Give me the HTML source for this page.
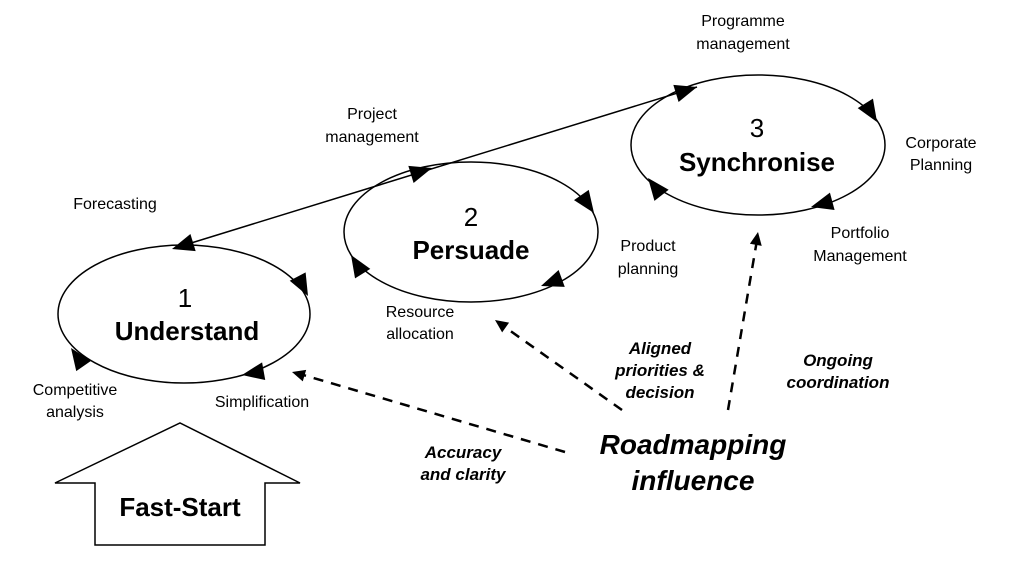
<!DOCTYPE html>
<html><head><style>html,body{margin:0;padding:0;background:#fff}</style></head><body>
<svg width="1024" height="576" viewBox="0 0 1024 576" xmlns="http://www.w3.org/2000/svg" font-family="Liberation Sans, sans-serif">
<defs>
<path id="ah" d="M0,0 L-22,-9 L-22,9 Z" fill="#000"/>
<path id="sh" d="M0,0 L-13,-6 L-13,6 Z" fill="#000"/>
</defs>
<rect width="1024" height="576" fill="#fff"/>
<g fill="none" stroke="#000" stroke-width="1.5">
<ellipse cx="184" cy="314" rx="126" ry="69"/>
<ellipse cx="471" cy="232" rx="127" ry="70"/>
<ellipse cx="758" cy="145" rx="127" ry="70"/>
<line x1="175" y1="248" x2="697" y2="87"/>
</g>
<use href="#ah" transform="translate(172,249) rotate(163)"/>
<use href="#ah" transform="translate(308,296) rotate(62)"/>
<use href="#ah" transform="translate(242,375) rotate(170)"/>
<use href="#ah" transform="translate(71,348) rotate(-125)"/>
<use href="#ah" transform="translate(432,168) rotate(-17)"/>
<use href="#ah" transform="translate(594,213) rotate(55)"/>
<use href="#ah" transform="translate(541,286) rotate(160)"/>
<use href="#ah" transform="translate(351,255) rotate(-122)"/>
<use href="#ah" transform="translate(697,87) rotate(-17)"/>
<use href="#ah" transform="translate(877,122) rotate(58)"/>
<use href="#ah" transform="translate(811,207) rotate(165)"/>
<use href="#ah" transform="translate(648,178) rotate(-128)"/>
<g fill="none" stroke="#000" stroke-width="2.5" stroke-dasharray="10,8">
<line x1="565" y1="452" x2="300" y2="374"/>
<line x1="622" y1="410" x2="502" y2="325"/>
<line x1="728" y1="410" x2="757" y2="240"/>
</g>
<use href="#sh" transform="translate(292,372) rotate(-163.6)"/>
<use href="#sh" transform="translate(495,320) rotate(-144.7)"/>
<use href="#sh" transform="translate(758,232) rotate(-80.3)"/>
<polygon points="55,483 180,423 300,483 265,483 265,545 95,545 95,483" fill="#fff" stroke="#000" stroke-width="1.5"/>
<g font-size="16" text-anchor="middle" fill="#000">
<text x="743" y="26">Programme</text><text x="743" y="49">management</text>
<text x="372" y="119">Project</text><text x="372" y="142">management</text>
<text x="115" y="209">Forecasting</text>
<text x="941" y="148">Corporate</text><text x="941" y="170">Planning</text>
<text x="648" y="251">Product</text><text x="648" y="274">planning</text>
<text x="860" y="238">Portfolio</text><text x="860" y="261">Management</text>
<text x="420" y="317">Resource</text><text x="420" y="339">allocation</text>
<text x="75" y="395">Competitive</text><text x="75" y="417">analysis</text>
<text x="262" y="407">Simplification</text>
</g>
<g font-size="26" text-anchor="middle" fill="#000">
<text x="185" y="307">1</text>
<text x="187" y="340" font-weight="bold">Understand</text>
<text x="471" y="226">2</text>
<text x="471" y="259" font-weight="bold">Persuade</text>
<text x="757" y="137">3</text>
<text x="757" y="171" font-weight="bold">Synchronise</text>
<text x="180" y="516" font-weight="bold">Fast-Start</text>
</g>
<g font-size="17" text-anchor="middle" font-weight="bold" font-style="italic" fill="#000">
<text x="660" y="354">Aligned</text><text x="660" y="376">priorities &amp;</text><text x="660" y="398">decision</text>
<text x="838" y="366">Ongoing</text><text x="838" y="388">coordination</text>
<text x="463" y="458">Accuracy</text><text x="463" y="480">and clarity</text>
</g>
<g font-size="28" text-anchor="middle" font-weight="bold" font-style="italic" fill="#000">
<text x="693" y="454">Roadmapping</text><text x="693" y="490">influence</text>
</g>
</svg>
</body></html>
